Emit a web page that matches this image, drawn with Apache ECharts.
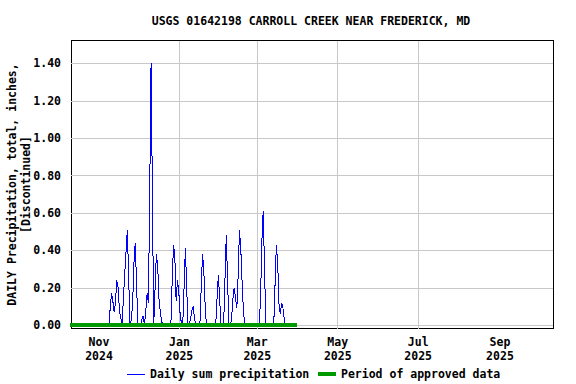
<!DOCTYPE html>
<html><head><meta charset="utf-8">
<script src="https://cdn.jsdelivr.net/npm/echarts@6/dist/echarts.min.js"></script>
<style>html,body{margin:0;padding:0;background:#fff}#c{width:576px;height:384px}#c svg path{shape-rendering:crispEdges}</style>
</head><body><div id="c"></div>
<script>
const chartTitle = 'USGS 01642198 CARROLL CREEK NEAR FREDERICK, MD';
const yAxisName = 'DAILY Precipitation, total, inches,\n[Discontinued]';
const seriesNames = ['Daily sum precipitation', 'Period of approved data'];

// daily sums (inches), one array per month
const oct2024 = [0,0,0,0,0,0,0,0,0,0,0,0,0,0,0,0,0,0,0,0,0]; // Oct 11-31
const nov2024 = [0,0,0,0,0,0,0,0,0.09,0.17,0.13,0.07,0.12,0.24,0.20,0.08,0.04,0,0.14,0.27,0.39,0.51,0.26,0,0.03,0.11,0.33,0.44,0.22,0];
const dec2024 = [0,0,0.03,0.05,0,0.08,0.17,0.12,0.73,1.40,0.70,0,0.19,0.38,0.32,0.14,0.07,0.02,0,0,0,0,0,0,0,0.24,0.43,0.37,0.13,0.24,0.18];
const jan2025 = [0.06,0.01,0,0.20,0.41,0.20,0,0,0.04,0.08,0.10,0.03,0,0,0,0,0.20,0.38,0.29,0.10,0,0,0,0,0,0,0,0,0.14,0.27,0.14];
const feb2025 = [0,0,0,0.24,0.48,0.24,0,0,0.03,0.14,0.20,0.15,0.09,0.26,0.51,0.41,0.23,0.08,0,0,0,0,0,0,0,0,0,0];
const mar2025 = [0,0,0.15,0.45,0.61,0.31,0,0,0,0,0,0,0,0.22,0.43,0.33,0.11,0.06,0.12,0.09,0.03,0,0,0,0,0,0,0.01,0,0]; // Mar 1-30
const monthArrays = [oct2024, nov2024, dec2024, jan2025, feb2025, mar2025];
const monthStarts = ['2024-10-11','2024-11-01','2024-12-01','2025-01-01','2025-02-01','2025-03-01'];

const approvedPeriod = ['2024-10-10', '2025-03-31'];
const xTickDates = ['2024-11-01','2025-01-01','2025-03-01','2025-05-01','2025-07-01','2025-09-01'];
const xRange = ['2024-10-10T19:00:00Z', '2025-10-11T05:00:00Z'];
const yRange = [-0.018, 1.523];
const monthNames = ['Jan','Feb','Mar','Apr','May','Jun','Jul','Aug','Sep','Oct','Nov','Dec'];

const DAY = 86400000;
const precip = [];
monthArrays.forEach((arr, i) => {
  const t0 = Date.parse(monthStarts[i] + 'T12:00:00Z'); // daily values plotted at midday
  arr.forEach((v, k) => precip.push([t0 + k * DAY, v]));
});
const approved = approvedPeriod.map(d => [Date.parse(d + 'T00:00:00Z'), 0]);
const tickVals = xTickDates.map(d => Date.parse(d + 'T00:00:00Z'));

const font = 'DejaVu Sans Mono';
const fs = 11.5;
const txt = {fontFamily: font, fontWeight: 'bold', fontSize: fs, color: '#000'};
const chart = echarts.init(document.getElementById('c'), null, {renderer: 'svg'});
chart.setOption({
  animation: false,
  backgroundColor: '#fff',
  title: {
    text: chartTitle, left: 306, top: 10, textAlign: 'center',
    textStyle: txt
  },
  legend: [
    {left: 127, top: 368, padding: 0, itemWidth: 18, itemHeight: 1, icon: 'rect', textStyle: txt, data: [seriesNames[0]]},
    {left: 318, top: 368, padding: 0, itemWidth: 18, itemHeight: 4, icon: 'rect', textStyle: txt, data: [seriesNames[1]]}
  ],
  grid: {left: 71, right: 23, top: 40.5, bottom: 55.5, containLabel: false, outerBoundsMode: 'none',
         show: true, borderColor: '#000', borderWidth: 1, backgroundColor: 'transparent'},
  xAxis: {
    type: 'value',
    min: Date.parse(xRange[0]), max: Date.parse(xRange[1]),
    axisLine: {show: false},
    axisTick: {show: false, customValues: tickVals},
    splitLine: {show: true, showMinLine: false, showMaxLine: false, lineStyle: {color: '#c8c8c8', width: 1}},
    axisLabel: Object.assign({
      customValues: tickVals, margin: 6, lineHeight: 14,
      formatter: v => { const d = new Date(v); return monthNames[d.getUTCMonth()] + '\n' + d.getUTCFullYear(); }
    }, txt)
  },
  yAxis: {
    type: 'value', min: yRange[0], max: yRange[1], splitNumber: 7,
    name: yAxisName, nameLocation: 'middle', nameGap: 38, nameRotate: 90, nameMoveOverlap: false,
    nameTextStyle: Object.assign({lineHeight: 14}, txt),
    axisLine: {show: false}, axisTick: {show: false},
    splitLine: {show: true, showMinLine: false, showMaxLine: false, lineStyle: {color: '#c8c8c8', width: 1}},
    axisLabel: Object.assign({
      margin: 10,
      formatter: v => Math.abs(v * 5 - Math.round(v * 5)) > 1e-6 ? '' : v.toFixed(2)
    }, txt)
  },
  series: [
    {name: seriesNames[0], type: 'line', data: precip, symbol: 'none', lineStyle: {color: '#0000ff', width: 1}, itemStyle: {color: '#0000ff'}},
    {name: seriesNames[1], type: 'line', data: approved, symbol: 'none', lineStyle: {color: '#009900', width: 4}, itemStyle: {color: '#009900'}}
  ]
});
</script></body></html>
